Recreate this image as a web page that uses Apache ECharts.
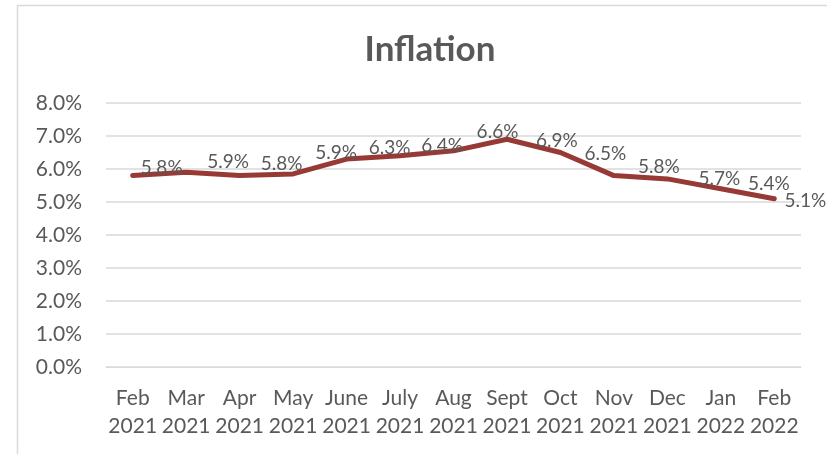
<!DOCTYPE html>
<html>
<head>
<meta charset="utf-8">
<script src="https://cdn.jsdelivr.net/npm/echarts@6/dist/echarts.min.js"></script>
<style>
html,body{margin:0;padding:0;background:#fff;}
#chart{width:827px;height:454px;}
</style>
</head>
<body>
<div id="chart"></div>
<script>
const categories = ['Feb\n2021','Mar\n2021','Apr\n2021','May\n2021','June\n2021','July\n2021','Aug\n2021','Sept\n2021','Oct\n2021','Nov\n2021','Dec\n2021','Jan\n2022','Feb\n2022'];
const inflation = [5.8, 5.9, 5.8, 5.85, 6.3, 6.4, 6.55, 6.9, 6.5, 5.8, 5.7, 5.4, 5.1];
const labelText = ['5.8%','5.9%','5.8%','5.9%','6.3%','6.4%','6.6%','6.9%','6.5%','5.8%','5.7%','5.4%','5.1%'];
const yTicks = [0, 1, 2, 3, 4, 5, 6, 7, 8];

// layout only: where each data label sits relative to its point (px)
const labelNudge = [[29,-8],[42,-10],[42,-12],[43,-21],[43,-11],[42,-10],[44,-19],[50,2],[45,1],[45,-9],[52,0],[48,-5],[31,2]];

const FONT = 'Lato, "Open Sans", sans-serif';
const TEXT = '#595959';

const chart = echarts.init(document.getElementById('chart'), null, { renderer: 'canvas' });
chart.setOption({
  animation: false,
  backgroundColor: '#fff',
  graphic: [{
    type: 'rect',
    shape: { x: 17.5, y: 5.5, width: 900, height: 600 },
    style: { fill: 'none', stroke: '#d9d9d9', lineWidth: 1.5 },
    silent: true, z: -1
  }],
  title: {
    text: 'Inflation',
    left: 425,
    textAlign: 'center',
    top: 27,
    textStyle: { fontFamily: FONT, fontWeight: 'bold', fontSize: 35, color: TEXT }
  },
  grid: { left: 106, right: 26, top: 103, bottom: 87, containLabel: false },
  xAxis: {
    type: 'category',
    data: categories,
    boundaryGap: true,
    axisLine: { show: true, lineStyle: { color: '#d9d9d9', width: 1 } },
    axisTick: { show: false },
    axisLabel: { color: TEXT, fontFamily: FONT, fontSize: 21, lineHeight: 28, margin: 17, interval: 0 }
  },
  yAxis: {
    type: 'value',
    min: yTicks[0],
    max: yTicks[yTicks.length - 1],
    interval: 1,
    axisLine: { show: false },
    axisTick: { show: false },
    splitLine: { lineStyle: { color: '#d9d9d9', width: 1.5 } },
    axisLabel: { color: TEXT, fontFamily: FONT, fontSize: 21, margin: 24, formatter: v => v.toFixed(1) + '%' }
  },
  series: [{
    type: 'line',
    data: inflation,
    symbol: 'circle',
    symbolSize: 2,
    showSymbol: true,
    itemStyle: { color: '#973a36' },
    lineStyle: { color: '#973a36', width: 5, cap: 'round', join: 'round' },
    labelLayout: p => ({
      dx: labelNudge[p.dataIndex][0],
      dy: labelNudge[p.dataIndex][1],
      hideOverlap: false,
      moveOverlap: null
    }),
    label: {
      show: true,
      position: 'inside',
      align: 'center',
      verticalAlign: 'middle',
      color: TEXT,
      fontFamily: FONT,
      fontSize: 19,
      formatter: p => labelText[p.dataIndex]
    }
  }]
});
</script>
</body>
</html>
